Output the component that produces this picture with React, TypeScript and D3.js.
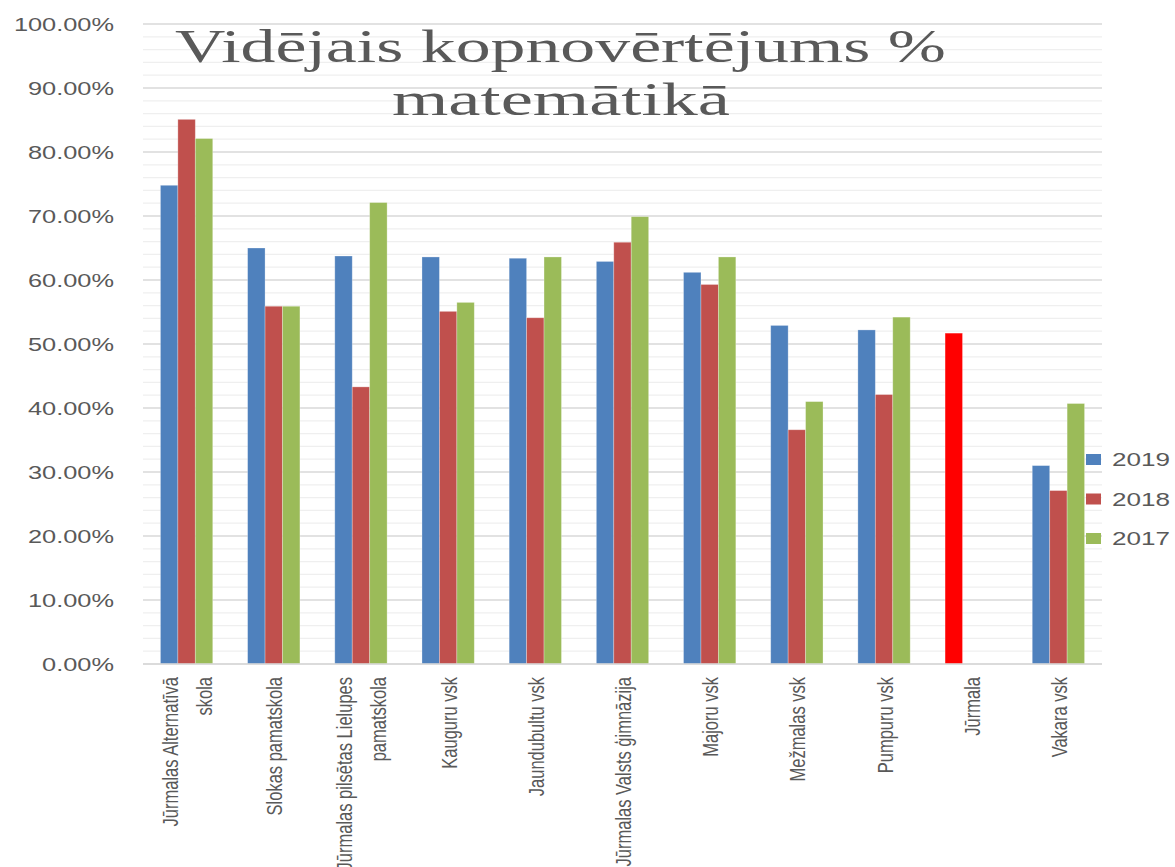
import React from "react";
import * as d3 from "d3";

const categories: string[] = [
  "Jūrmalas Alternatīvā skola",
  "Slokas pamatskola",
  "Jūrmalas pilsētas Lielupes pamatskola",
  "Kauguru vsk",
  "Jaundubultu vsk",
  "Jūrmalas Valsts ģimnāzija",
  "Majoru vsk",
  "Mežmalas vsk",
  "Pumpuru vsk",
  "Jūrmala",
  "Vakara vsk",
];

const categoryLines: string[][] = [
  ["Jūrmalas Alternatīvā", "skola"],
  ["Slokas pamatskola"],
  ["Jūrmalas pilsētas Lielupes", "pamatskola"],
  ["Kauguru vsk"],
  ["Jaundubultu vsk"],
  ["Jūrmalas Valsts ģimnāzija"],
  ["Majoru vsk"],
  ["Mežmalas vsk"],
  ["Pumpuru vsk"],
  ["Jūrmala"],
  ["Vakara vsk"],
];

const seriesNames: string[] = ["2019", "2018", "2017"];
const seriesColors: string[] = ["#4f81bd", "#c0504d", "#9bbb59"];
const highlightCategory = "Jūrmala";
const highlightColor = "#ff0000";

const values2019: (number | null)[] = [0.748, 0.65, 0.6375, 0.636, 0.634, 0.629, 0.612, 0.529, 0.522, 0.517, 0.31];
const values2018: (number | null)[] = [0.851, 0.559, 0.433, 0.551, 0.541, 0.659, 0.593, 0.366, 0.421, null, 0.271];
const values2017: (number | null)[] = [0.821, 0.559, 0.721, 0.565, 0.636, 0.699, 0.636, 0.41, 0.542, null, 0.407];

const seriesValues = [values2019, values2018, values2017];

const yMajorTicks: number[] = [0, 0.1, 0.2, 0.3, 0.4, 0.5, 0.6, 0.7, 0.8, 0.9, 1.0];
const yMinorStep = 0.02;

const titleLines: string[] = ["Vidējais kopnovērtējums %", "matemātikā"];

const W = 1175;
const H = 867;
const plotLeft = 143;
const plotRight = 1102;
const plotTop = 24;
const plotBottom = 664;
const textColor = "#595959";
const sansFont = "'Liberation Sans', Arial, sans-serif";

export default function App() {
  const x = d3.scaleBand<string>().domain(categories).range([plotLeft, plotRight]).padding(0);
  const step = x.bandwidth();
  const xInner = d3
    .scaleBand<string>()
    .domain(seriesNames)
    .range([step * 0.2, step * 0.8])
    .padding(0);
  const y = d3.scaleLinear().domain([0, 1]).range([plotBottom, plotTop]);
  const fmt = d3.format(".2%");

  const minorTicks = d3.range(0, 1 + 1e-9, yMinorStep).filter(
    (t) => !yMajorTicks.some((m) => Math.abs(m - t) < 1e-6)
  );

  return (
    <svg
      width={W}
      height={H}
      style={{ position: "absolute", left: 0, top: 0, background: "#fff" }}
    >
      <rect x={0} y={0} width={W} height={H} fill="#fff" />
      {/* minor gridlines */}
      {minorTicks.map((t, i) => (
        <line key={"mn" + i} x1={plotLeft} x2={plotRight} y1={y(t)} y2={y(t)} stroke="#efefef" strokeWidth={1.2} />
      ))}
      {/* major gridlines */}
      {yMajorTicks.map((t, i) => (
        <line key={"mj" + i} x1={plotLeft} x2={plotRight} y1={y(t)} y2={y(t)} stroke="#d9d9d9" strokeWidth={1.3} />
      ))}
      {/* y labels */}
      {yMajorTicks.map((t, i) => (
        <text
          key={"yl" + i}
          transform={`translate(114,${y(t) + 6.5}) scale(1.45,1)`}
          textAnchor="end"
          fontFamily={sansFont}
          fontSize={17.5}
          fill={textColor}
        >
          {fmt(t)}
        </text>
      ))}
      {/* bars */}
      {categories.map((c, ci) =>
        seriesNames.map((s, si) => {
          const v = seriesValues[si][ci];
          if (v == null) return null;
          const color = c === highlightCategory ? highlightColor : seriesColors[si];
          const bx = (x(c) as number) + (xInner(s) as number);
          return (
            <rect
              key={c + s}
              x={bx}
              y={y(v)}
              width={xInner.bandwidth()}
              height={y(0) - y(v)}
              fill={color}
              stroke="#ffffff"
              strokeOpacity={0.35}
              strokeWidth={0.8}
            />
          );
        })
      )}
      {/* axis line */}
      <line x1={plotLeft} x2={plotRight} y1={plotBottom} y2={plotBottom} stroke="#d9d9d9" strokeWidth={1.3} />
      {/* x labels */}
      {categories.map((c, ci) => {
        const cx = (x(c) as number) + step / 2;
        const lines = categoryLines[ci];
        const n = lines.length;
        return lines.map((ln, li) => {
          const bx = cx + 8.5 + (li - (n - 1) / 2) * 34;
          return (
            <text
              key={c + li}
              transform={`translate(${bx},677) rotate(-90) scale(1,1.3)`}
              textAnchor="end"
              fontFamily={sansFont}
              fontSize={16.5}
              fill={textColor}
            >
              {ln}
            </text>
          );
        });
      })}
      {/* title */}
      <text
        x={560.5}
        y={62}
        textAnchor="middle"
        fontFamily="'Liberation Serif', 'DejaVu Serif', serif"
        fontSize={46}
        fill={textColor}
        textLength={771}
        lengthAdjust="spacingAndGlyphs"
      >
        {titleLines[0]}
      </text>
      <text
        x={561}
        y={115}
        textAnchor="middle"
        fontFamily="'Liberation Serif', 'DejaVu Serif', serif"
        fontSize={46}
        fill={textColor}
        textLength={338}
        lengthAdjust="spacingAndGlyphs"
      >
        {titleLines[1]}
      </text>
      {/* legend */}
      {seriesNames.map((s, si) => {
        const cy = 459.5 + si * 39.5;
        return (
          <g key={"lg" + s}>
            <rect x={1086} y={cy - 5.5} width={15} height={11} fill={seriesColors[si]} />
            <text
              transform={`translate(1112,${cy + 6.5}) scale(1.45,1)`}
              fontFamily={sansFont}
              fontSize={18}
              fill={textColor}
            >
              {s}
            </text>
          </g>
        );
      })}
    </svg>
  );
}
